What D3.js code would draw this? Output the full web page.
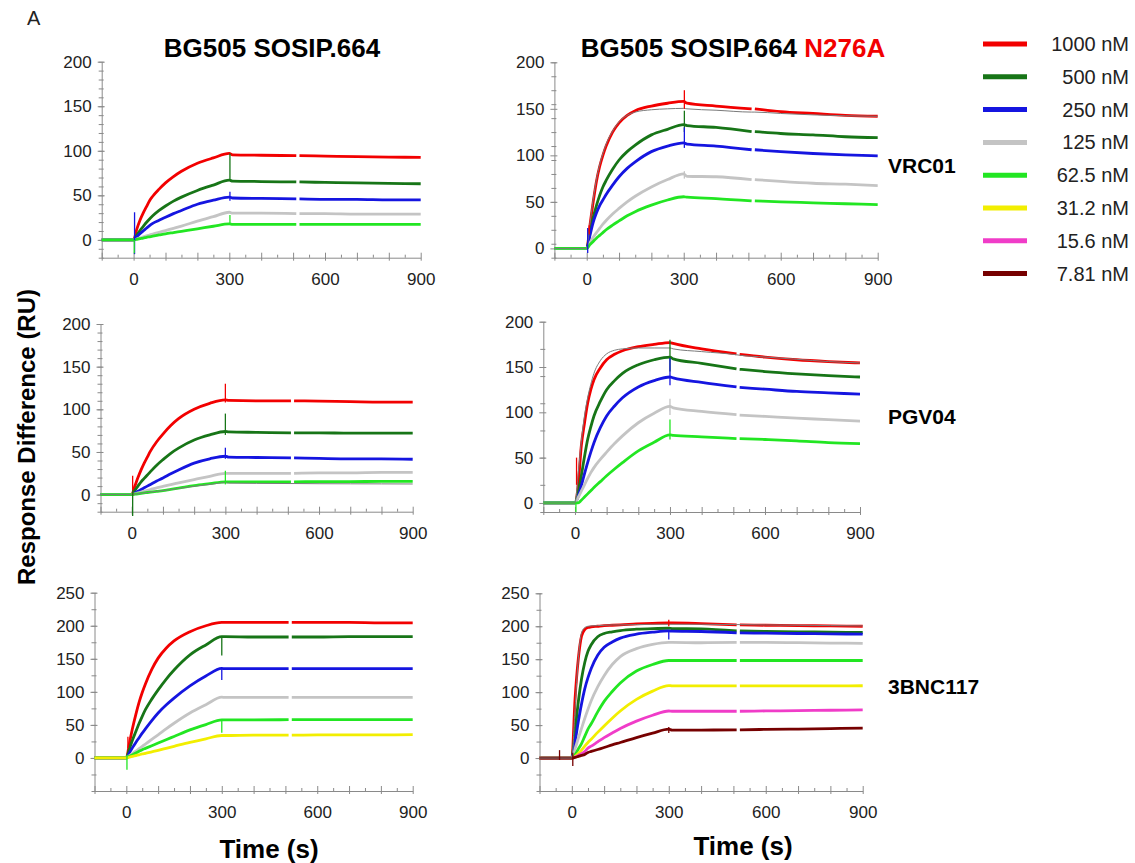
<!DOCTYPE html>
<html>
<head>
<meta charset="utf-8">
<script src="https://cdn.jsdelivr.net/npm/d3@7"></script>
<style>
  body { margin: 0; background: #fff; }
  svg { font-family: "Liberation Sans", Arial, sans-serif; }
  .axis path, .axis line { stroke: #8a8a8a; }
  .axis text { fill: #222; font-size: 17px; }
</style>
</head>
<body>
<div class="chart"></div>
<script>
var svgWidth = 1135;
var svgHeight = 863;

// sample times (s) shared by every sensorgram
var times = [-100, 0, 10, 20, 30, 40, 50, 60, 80, 100, 125, 150, 200, 250, 300, 310, 400, 510, 520, 600, 700, 800, 900];

var concentrations = ["1000 nM", "500 nM", "250 nM", "125 nM", "62.5 nM", "31.2 nM", "15.6 nM", "7.81 nM"];
var colors = ["#f20000", "#177517", "#1515e0", "#c4c4c4", "#22e622", "#f2ee00", "#f03cc8", "#760000"];

var antibodies = ["VRC01", "PGV04", "3BNC117"];

// response (RU) per concentration
var vrc01WT = [
  [0, 0, 12, 22, 30, 37, 44, 49, 57, 64, 71, 77, 86, 92, 97, 95.5, 95, 94.5, 94.5, 94, 93.5, 93, 92.5],
  [0, 0, 5.5, 10.5, 15, 19.5, 23.5, 27, 33, 38, 43.5, 48, 55.5, 61.5, 67, 66, 65.5, 65, 65, 64.5, 64, 63.5, 63],
  [0, 0, 3.5, 7, 10, 13, 16, 18.5, 22, 25.5, 29.5, 33, 40, 44.5, 48, 47, 46.5, 46, 46, 45.5, 45.5, 45, 45],
  [0, 0, 1, 2.2, 3.3, 4.4, 5.5, 6.5, 8.5, 10.5, 13, 15.5, 21, 26, 31, 30, 30, 29.5, 29.5, 29.5, 29, 29, 29],
  [0, 0, 0.7, 1.4, 2, 2.8, 3.5, 4.2, 5.5, 6.8, 8.2, 9.6, 12.4, 15.3, 18, 17.5, 17.5, 17.3, 17.3, 17.3, 17.3, 17.3, 17.3]
];
var vrc01N276A = [
  [0, 0, 25, 50, 72, 88, 100, 110, 125, 135, 143, 148, 153, 156, 158, 156, 153, 150, 150, 147, 145, 143, 142],
  [0, 0, 17, 33, 46, 57, 66, 73, 85, 95, 104, 111, 122, 128, 133, 132, 130, 125.5, 125.5, 123.5, 122, 120, 119],
  [0, 0, 14, 28, 38, 46, 52, 58, 68, 77, 86, 93, 104, 110, 113.5, 112, 110, 106, 106, 104, 102, 100.5, 99.5],
  [0, 0, 6, 12, 17, 21.5, 26, 30, 37, 43, 50, 56, 66, 74, 80, 77.5, 77, 74, 74, 72, 70, 69, 67.5],
  [0, 0, 4, 7.5, 11, 14, 17, 20, 25, 29.5, 35, 39.5, 46.5, 52, 55.5, 55, 53.5, 51, 51, 50, 49, 48, 47]
];
var pgv04WT = [
  [0, 0, 10, 20, 29, 37, 44, 51, 62, 71, 81, 89, 100, 107, 111, 110.5, 110, 110, 110, 109.5, 109, 108.5, 108.5],
  [0, 0, 5, 10, 15, 19, 23, 27, 34.5, 41, 48.5, 54.5, 64, 70, 74, 73.5, 73, 72.5, 72.5, 72.5, 72, 72, 72],
  [0, 0, 2, 4, 6, 8, 10, 12, 16, 19.5, 24.5, 29, 37, 42, 45, 44, 43.5, 43, 43, 42.5, 42, 42, 41.5],
  [0, 0, 1, 2, 3, 4, 5, 6, 8, 9.7, 11.8, 13.7, 17.5, 21.5, 25, 25, 25, 25, 25, 25.5, 25.5, 26, 26],
  [0, 0, 0.5, 1, 1.5, 2, 2.5, 3, 3.9, 4.7, 6.2, 7.6, 10.5, 12.8, 15, 15, 15, 15, 15, 15.2, 15.3, 15.5, 15.6]
];
var pgv04N276A = [
  [0, 0, 19, 63, 88, 110, 125, 136, 149, 158, 164, 168, 172.5, 175, 177, 176, 170, 164.5, 164, 161, 158, 156, 154.5],
  [0, 0, 12, 30, 51, 70, 84, 96, 112, 125, 135, 143, 152.5, 158, 161, 159, 154, 148, 147.5, 145, 142.5, 140.5, 139],
  [0, 0, 7, 19, 32, 44.5, 56, 66.5, 83, 96, 107, 116, 128, 135, 139, 138, 133, 128, 127.5, 125.5, 123, 121.5, 120],
  [0, 0, 6, 13, 20, 27, 33.5, 39, 48, 56, 65.5, 74, 88.5, 99, 106.5, 105, 101, 97.5, 97, 95.5, 93.5, 92, 90.3],
  [0, 0, 0, 3, 6.5, 10, 13.5, 17, 23.5, 30, 37.5, 44.5, 57.5, 67, 75, 74.5, 73, 71, 71, 70, 68.5, 66.5, 65.5]
];
var bnc117WT = [
  [0, 0, 23, 46, 66, 84, 99, 112, 134, 151, 166, 177, 191, 200, 205, 205, 205, 205, 205, 205, 205, 204.5, 204.5],
  [0, 0, 14, 28, 40, 52, 63, 73, 89, 103, 119, 133, 156, 171, 183.5, 183.5, 183, 183, 183, 183, 183.5, 183.5, 183.5],
  [0, 0, 8, 16, 23.5, 30.5, 37.5, 44, 56.5, 68, 80, 90.5, 109, 124, 135.5, 135, 135, 135, 135, 135, 135, 135, 135],
  [0, 0, 3.5, 7, 10.5, 14, 17.5, 21, 28, 35, 44, 52.5, 68, 80.5, 92, 91.5, 91.5, 91.5, 91.5, 91.5, 91.5, 91.5, 91.5],
  [0, 0, 2.5, 5, 7.5, 10, 12.5, 14.5, 18.5, 22.5, 27.5, 32.5, 42.5, 50.5, 57.5, 57.5, 57.5, 58, 58, 58, 58, 58, 58],
  [0, 0, 1.2, 2.4, 3.6, 4.8, 6, 7, 9.3, 11.6, 14.6, 17.6, 23.6, 29, 34, 34, 34.5, 34.5, 34.5, 34.8, 35, 35, 35.2]
];
var bnc117N276A = [
  [0, 0, 90, 150, 185, 195, 198, 199, 200, 201, 201.5, 202, 203.5, 204.5, 205, 205, 204, 202, 202, 201.5, 201, 200.5, 200],
  [0, 0, 40, 85, 120, 145, 162, 172, 184, 189, 191.5, 193.5, 195.5, 196.5, 197, 196.5, 196, 193, 193, 192, 191.5, 191, 190.5],
  [0, 0, 25, 55, 82, 105, 122, 136, 156, 168, 176, 182, 188, 191, 193, 192.5, 192, 190, 190, 189.5, 189, 188.5, 188],
  [0, 0, 14, 30, 45, 60, 74, 87, 108, 125, 142, 154, 166, 172.5, 175.5, 175.5, 175, 175.5, 175.5, 175.5, 175, 174.5, 174],
  [0, 0, 5, 13.5, 22, 33, 43.8, 52, 70, 86, 101, 114, 132, 142, 148, 148, 148, 148, 148, 148, 148, 148, 148],
  [0, 0, 2.5, 7, 12, 18, 23.6, 28.5, 39, 48.8, 60.5, 71.4, 89, 101.6, 110, 109.5, 109.5, 109.5, 109.5, 109.5, 109.5, 109.5, 109.7],
  [0, 0, 1.5, 4, 6.5, 10, 15, 18, 24.5, 31, 38, 44.8, 56, 65, 71.4, 71, 71, 71, 71, 71.5, 72, 72.5, 73],
  [0, 0, 1, 2.5, 4, 5.5, 8.5, 10, 13, 16, 20, 23.6, 31, 37.7, 43.8, 42.5, 42.5, 42.8, 42.8, 43.5, 44, 44.8, 45.3]
];

// thin gray model fits where they visibly leave the data
var fitsVrc01N276A = [
  [0, 0, 27, 53, 74, 90, 102, 112, 126, 136, 143, 146.5, 149, 150, 150.5, 150, 148.5, 146.5, 146.5, 145, 143.5, 142.5, 142]
];
var fitsPgv04WT = [
  [0, 0, 0.5, 1, 1.5, 2, 2.5, 3, 3.9, 4.7, 6, 7.3, 9.8, 12, 14, 13.5, 13.2, 13, 13, 12.8, 12.7, 12.6, 12.5]
];
var fitsPgv04N276A = [
  [0, 0, 32, 68, 96, 116, 131, 143, 157, 164.5, 168.5, 170, 171, 171, 171, 170, 167, 163.5, 163, 161, 158.5, 156, 154.5]
];
var fitsBnc117N276A = [
  [0, 0, 75, 150, 190, 198, 200, 200.5, 201, 201.5, 202, 202, 202.5, 203, 203, 203, 203, 202.5, 202.5, 202, 201.5, 201, 200.5]
];

// injection spikes: [series index, time, low, high]
var spikesVrc01WT = [[2, 3, -16, 31], [4, 2, -15, 0], [1, 302, 67, 97], [2, 302, 44, 54], [4, 302, 18, 28]];
var spikesVrc01N276A = [[0, 302, 150, 170], [1, 302, 125, 148], [2, 302, 108, 130], [3, 302, 75, 83], [2, 3, -5, 22], [0, 8, 15, 25]];
var spikesPgv04WT = [[0, 300, 108, 130], [1, 300, 70, 95], [2, 300, 42, 55], [4, 300, 12, 28], [0, 3, 0, 22], [1, 3, -25, 5]];
var spikesPgv04N276A = [[1, 300, 145, 180], [2, 300, 130, 160], [3, 300, 97, 115], [4, 300, 70, 92], [0, 5, 20, 50], [4, 3, -10, 0]];
var spikesBnc117WT = [[1, 300, 155, 183], [2, 300, 118, 135], [4, 300, 38, 57], [4, 2, -18, 5], [0, 5, 15, 32]];
var spikesBnc117N276A = [[0, 300, 200, 210], [2, 300, 180, 193], [7, -38, -3, 12], [7, 3, -12, 8], [7, 300, 38, 47]];

var svg = d3.select(".chart")
  .append("svg")
  .attr("width", svgWidth)
  .attr("height", svgHeight);

// panel layout in page pixels
var panels = [
  {data: vrc01WT, fits: [], spikes: spikesVrc01WT, xr: [101.7, 420.7], yd: [-20, 200], yr: [257.7, 61.7], step: 10},
  {data: vrc01N276A, fits: fitsVrc01N276A, spikes: spikesVrc01N276A, xr: [554.4, 877.7], yd: [-10, 200], yr: [257.7, 62.3], step: 15},
  {data: pgv04WT, fits: fitsPgv04WT, spikes: spikesPgv04WT, xr: [100.5, 412.7], yd: [-20, 200], yr: [511.7, 324], step: 10},
  {data: pgv04N276A, fits: fitsPgv04N276A, spikes: spikesPgv04N276A, xr: [543.3, 860], yd: [-10, 200], yr: [512, 321.7], step: 30},
  {data: bnc117WT, fits: [], spikes: spikesBnc117WT, xr: [94.5, 412.7], yd: [-50, 250], yr: [791, 592.7], step: 25},
  {data: bnc117N276A, fits: fitsBnc117N276A, spikes: spikesBnc117N276A, xr: [539.5, 862.7], yd: [-50, 250], yr: [791, 593.3], step: 25}
];

panels.forEach(function(p) {
  var x = d3.scaleLinear().domain([-100, 900]).range(p.xr);
  var y = d3.scaleLinear().domain(p.yd).range(p.yr);
  var g = svg.append("g");

  // minor y ticks, counted down from the top of the axis
  var minor = d3.range(p.yd[1], p.yd[0] - 0.01, -p.step);
  var yMinor = g.append("g").attr("class", "axis")
    .attr("transform", `translate(${p.xr[0]},0)`)
    .call(d3.axisLeft(y).tickValues(minor).tickSize(3).tickSizeOuter(0).tickFormat(""));
  yMinor.selectAll(".tick line").attr("x2", -3).attr("x1", 2);

  var majors = d3.range(0, p.yd[1] + 1, 50);
  var yAxis = g.append("g").attr("class", "axis")
    .attr("transform", `translate(${p.xr[0]},0)`)
    .call(d3.axisLeft(y).tickValues(majors).tickSize(4).tickPadding(6).tickSizeOuter(0));
  yAxis.select(".domain").remove();
  yAxis.selectAll(".tick line").attr("x1", 3);

  var xAxis = g.append("g").attr("class", "axis")
    .attr("transform", `translate(0,${p.yr[0]})`)
    .call(d3.axisBottom(x).tickValues(d3.range(-100, 901, 50)).tickSize(3).tickPadding(12).tickSizeOuter(0)
      .tickFormat(function(d) { return d % 300 === 0 && d >= 0 ? d : ""; }));
  xAxis.selectAll(".tick line")
    .attr("y1", function(d) { return d % 100 === 0 ? 3 : 0; })
    .attr("y2", function(d) { return d % 100 === 0 ? -5 : -3; });

  var line = d3.line()
    .x(function(d) { return x(d[0]); })
    .y(function(d) { return y(d[1]); })
    .curve(d3.curveMonotoneX);

  function segments(vals) {
    var pts = times.map(function(t, k) { return [t, vals[k]]; });
    // small gap in the recording near 515 s
    return [pts.filter(function(d) { return d[0] <= 510; }), pts.filter(function(d) { return d[0] >= 520; })];
  }

  p.data.forEach(function(vals, i) {
    segments(vals).forEach(function(seg) {
      g.append("path")
        .datum(seg)
        .attr("fill", "none")
        .attr("stroke", colors[i])
        .attr("stroke-width", 2.8)
        .attr("d", line);
    });
  });

  p.fits.forEach(function(vals) {
    g.append("path")
      .datum(times.map(function(t, k) { return [t, vals[k]]; }))
      .attr("fill", "none")
      .attr("stroke", "#7a7a7a")
      .attr("stroke-width", 1)
      .attr("d", line);
  });

  g.selectAll(".spike")
    .data(p.spikes)
    .enter()
    .append("line")
    .attr("x1", function(d) { return x(d[1]); })
    .attr("x2", function(d) { return x(d[1]); })
    .attr("y1", function(d) { return y(d[2]); })
    .attr("y2", function(d) { return y(d[3]); })
    .attr("stroke", function(d) { return colors[d[0]]; })
    .attr("stroke-width", 1.3);
});

// titles and labels
svg.append("text").attr("x", 27).attr("y", 25).attr("font-size", 20).attr("fill", "#222").text("A");

svg.append("text").attr("x", 272).attr("y", 57).attr("text-anchor", "middle")
  .attr("font-size", 26).attr("font-weight", "bold").text("BG505 SOSIP.664");

var t2 = svg.append("text").attr("x", 733).attr("y", 57).attr("text-anchor", "middle")
  .attr("font-size", 26).attr("font-weight", "bold");
t2.append("tspan").text("BG505 SOSIP.664 ");
t2.append("tspan").attr("fill", "#f20000").text("N276A");

svg.append("text").attr("transform", "translate(35,437) rotate(-90)").attr("text-anchor", "middle")
  .attr("font-size", 24).attr("font-weight", "bold").text("Response Difference (RU)");

svg.append("text").attr("x", 269).attr("y", 858).attr("text-anchor", "middle")
  .attr("font-size", 26).attr("font-weight", "bold").text("Time (s)");
svg.append("text").attr("x", 743).attr("y", 855).attr("text-anchor", "middle")
  .attr("font-size", 26).attr("font-weight", "bold").text("Time (s)");

var sideY = [173, 424, 694];
antibodies.forEach(function(name, i) {
  svg.append("text").attr("x", 888).attr("y", sideY[i])
    .attr("font-size", 21).attr("font-weight", "bold").text(name);
});

// legend
var legend = svg.append("g");
concentrations.forEach(function(c, i) {
  var yy = 44 + i * 32.8;
  legend.append("line").attr("x1", 983).attr("x2", 1027).attr("y1", yy).attr("y2", yy)
    .attr("stroke", colors[i]).attr("stroke-width", 5);
  legend.append("text").attr("x", 1129).attr("y", yy + 7).attr("text-anchor", "end")
    .attr("font-size", 20).attr("fill", "#222").text(c);
});
</script>
</body>
</html>
